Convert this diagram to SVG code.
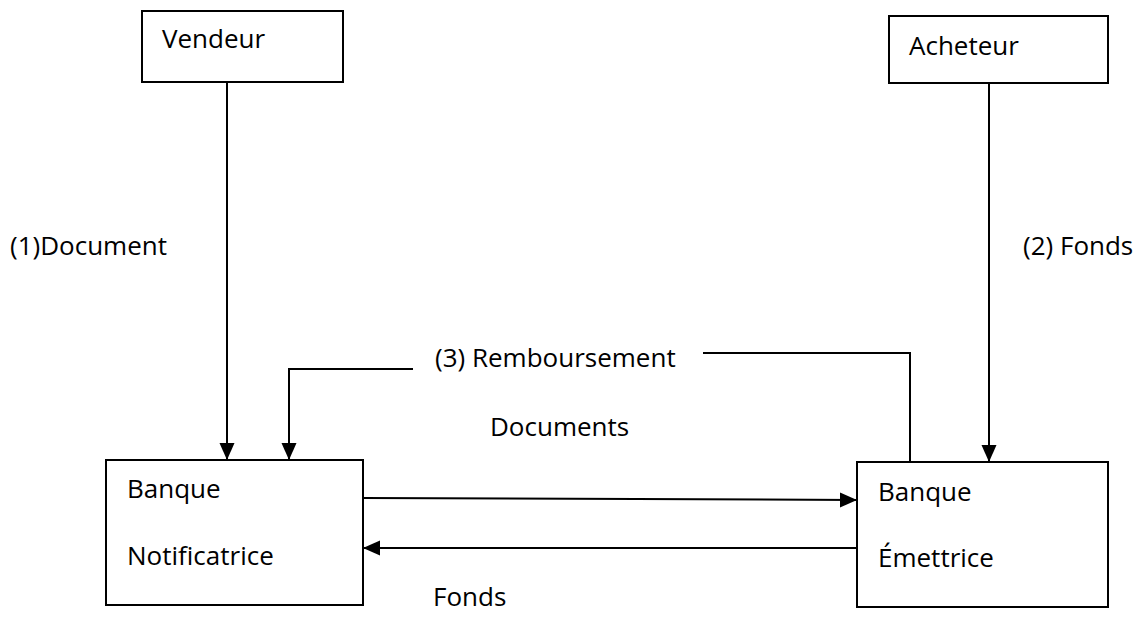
<svg xmlns="http://www.w3.org/2000/svg" width="1146" height="621" viewBox="0 0 1146 621">
  <style>
    .box { fill: #ffffff; stroke: #000000; stroke-width: 2; }
    .lbl { font-family: "Open Sans", "Liberation Sans", sans-serif; font-size: 26px; fill: #000000; }
    .wire { fill: none; stroke: #000000; stroke-width: 2; }
  </style>
  <defs>
    <marker id="arrow" markerUnits="userSpaceOnUse" markerWidth="18" markerHeight="18" viewBox="0 0 18 18" refX="17" refY="9" orient="auto">
      <path d="M0,1.5 L17,9 L0,16.5 Z" fill="#000000"/>
    </marker>
  </defs>
  <rect width="1146" height="621" fill="#ffffff"/>

  <g id="connectors">
    <line class="wire" x1="227" y1="82" x2="227" y2="460" marker-end="url(#arrow)"/>
    <line class="wire" x1="989" y1="83" x2="989" y2="462" marker-end="url(#arrow)"/>
    <polyline class="wire" points="910,462 910,353 703,353"/>
    <polyline class="wire" points="413,369 289,369 289,460" marker-end="url(#arrow)"/>
    <line class="wire" x1="363" y1="498" x2="857" y2="500" marker-end="url(#arrow)"/>
    <line class="wire" x1="857" y1="548" x2="363" y2="548" marker-end="url(#arrow)"/>
    <text class="lbl" x="10" y="255">(1)Document</text>
    <text class="lbl" x="1023" y="255">(2) Fonds</text>
    <text class="lbl" x="435" y="367">(3) Remboursement</text>
    <text class="lbl" x="490" y="436">Documents</text>
    <text class="lbl" x="433" y="606">Fonds</text>
  </g>

  <g id="vendeur">
    <rect class="box" x="142" y="11" width="201" height="71"/>
    <text class="lbl" x="162" y="48">Vendeur</text>
  </g>
  <g id="acheteur">
    <rect class="box" x="889" y="16" width="219" height="67"/>
    <text class="lbl" x="909" y="55">Acheteur</text>
  </g>
  <g id="banque-notificatrice">
    <rect class="box" x="106" y="460" width="257" height="145"/>
    <text class="lbl" x="127" y="498">Banque</text>
    <text class="lbl" x="127" y="565">Notificatrice</text>
  </g>
  <g id="banque-emettrice">
    <rect class="box" x="857" y="462" width="251" height="145"/>
    <text class="lbl" x="878" y="501">Banque</text>
    <text class="lbl" x="878" y="567">Émettrice</text>
  </g>
</svg>
